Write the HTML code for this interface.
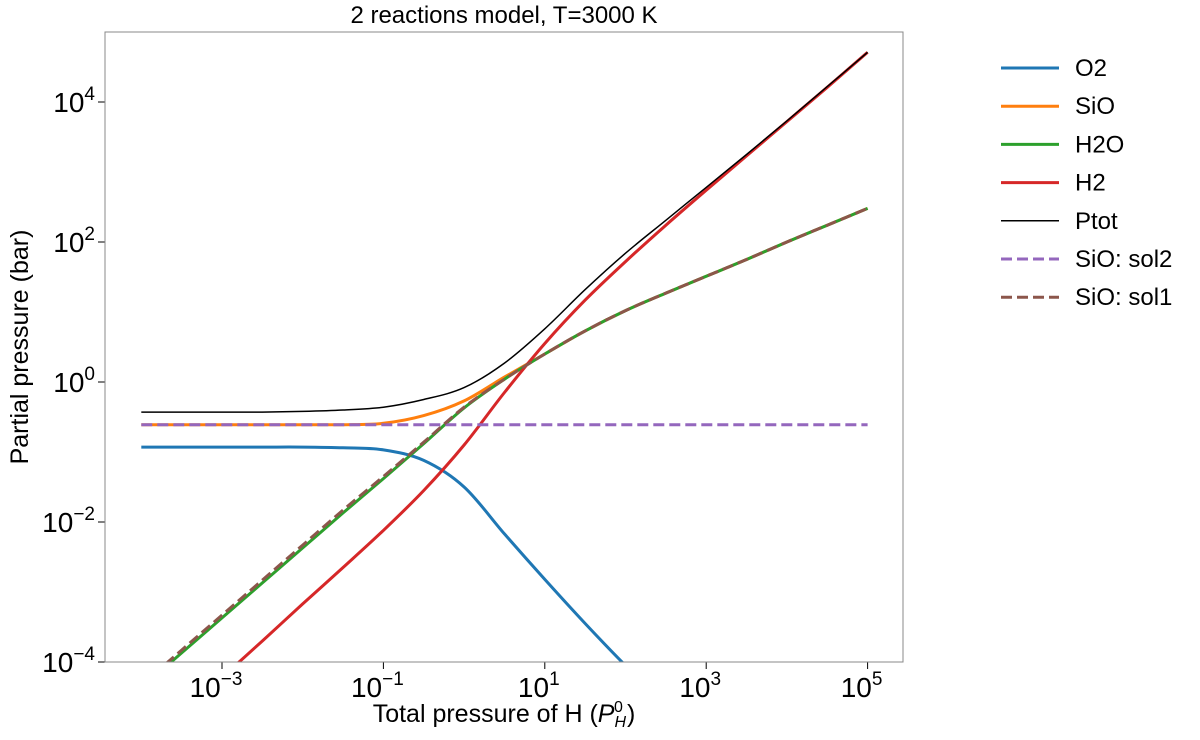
<!DOCTYPE html>
<html><head><meta charset="utf-8"><style>
html,body{margin:0;background:#fff;overflow:hidden;width:1200px;height:740px;}
svg{display:block;font-family:"Liberation Sans","DejaVu Sans",sans-serif;}
</style></head><body>
<svg id="chart" width="1200" height="740"></svg>
<script>
const logP = [-4,-3.5,-3,-2.5,-2,-1.5,-1,-0.5,0,0.5,1,1.5,2,2.5,3,3.5,4,4.5,5];
const o2 = [-0.93,-0.93,-0.93,-0.93,-0.93,-0.94,-0.97,-1.12,-1.5,-2.17,-2.82,-3.45,-4.05,-4.6,-5.1,-5.6,-6.1,-6.6,-7.1];
const sio = [-0.61,-0.61,-0.61,-0.61,-0.61,-0.61,-0.59,-0.48,-0.27,0.07,0.40,0.73,1.02,1.27,1.51,1.75,2.0,2.24,2.48];
const h2o = [-4.37,-3.87,-3.37,-2.87,-2.37,-1.87,-1.38,-0.88,-0.37,0.04,0.40,0.73,1.02,1.27,1.51,1.75,2.0,2.24,2.48];
const h2 = [-5.3,-4.75,-4.22,-3.7,-3.17,-2.65,-2.12,-1.55,-0.9,-0.15,0.55,1.17,1.72,2.24,2.74,3.23,3.72,4.21,4.71];
const ptot = [-0.43,-0.43,-0.43,-0.43,-0.42,-0.40,-0.36,-0.25,-0.08,0.27,0.76,1.32,1.84,2.31,2.78,3.25,3.73,4.22,4.71];
const sol2 = [-0.61,-0.61,-0.61,-0.61,-0.61,-0.61,-0.61,-0.61,-0.61,-0.61,-0.61,-0.61,-0.61,-0.61,-0.61,-0.61,-0.61,-0.61,-0.61];
const sol1 = [-4.33,-3.83,-3.33,-2.83,-2.33,-1.83,-1.35,-0.86,-0.36,0.04,0.40,0.73,1.02,1.27,1.51,1.75,2.0,2.24,2.48];
const xTicks = [-3,-1,1,3,5];
const yTicks = [-4,-2,0,2,4];
const legendNames = ["O2","SiO","H2O","H2","Ptot","SiO: sol2","SiO: sol1"];

const NS="http://www.w3.org/2000/svg";
const svg=document.getElementById('chart');
const L=105,R=903,T=32,B=662;
const X=v=>222+(v+3)*80.7;
const Y=v=>382-v*70;
function el(t,a,p){const e=document.createElementNS(NS,t);for(const k in a)e.setAttribute(k,a[k]);(p||svg).appendChild(e);return e;}
const defs=el('defs',{});
const cp=el('clipPath',{id:'clip'},defs);
el('rect',{x:L,y:T,width:R-L,height:B-T},cp);

const title=el('text',{x:(L+R)/2,y:23,'text-anchor':'middle','font-size':24});
title.textContent='2 reactions model, T=3000 K';



for(const t of xTicks){
  const g=el('g',{});
  
  
  el('line',{x1:X(t),x2:X(t),y1:B,y2:B+7,stroke:'#000','stroke-width':1},g);
  const tx=el('text',{x:X(t)-6,y:B+35,'text-anchor':'middle','font-size':28},g);
  tx.innerHTML='10<tspan dy="-12" font-size="19">'+(t<0?'\u2212'+(-t):t)+'</tspan>';
}
for(const t of yTicks){
  const g=el('g',{});
  
  
  el('line',{x1:L-7,x2:L,y1:Y(t),y2:Y(t),stroke:'#000','stroke-width':1},g);
  const tx=el('text',{x:L-10,y:Y(t)+10,'text-anchor':'end','font-size':28},g);
  tx.innerHTML='10<tspan dy="-12" font-size="19">'+(t<0?'\u2212'+(-t):t)+'</tspan>';
}

const xl=el('text',{x:(L+R)/2,y:722,'text-anchor':'middle','font-size':25});
xl.innerHTML='Total pressure of H (<tspan font-style="italic">P</tspan><tspan font-size="16" dy="5" font-style="italic">H</tspan><tspan font-size="16" dy="-15" dx="-12">0</tspan><tspan dy="10" dx="4">)</tspan>';


const yl=el('text',{x:0,y:0,'text-anchor':'middle','font-size':25,transform:'translate(28,'+((T+B)/2)+') rotate(-90)'});
yl.textContent='Partial pressure (bar)';



function path(ys){
  const p=logP.map((v,i)=>[X(v),Y(ys[i])]);
  let d='M'+p[0][0]+','+p[0][1];
  for(let i=0;i<p.length-1;i++){
    const p0=p[Math.max(0,i-1)],p1=p[i],p2=p[i+1],p3=p[Math.min(p.length-1,i+2)];
    const c1=[p1[0]+(p2[0]-p0[0])/6,p1[1]+(p2[1]-p0[1])/6];
    const c2=[p2[0]-(p3[0]-p1[0])/6,p2[1]-(p3[1]-p1[1])/6];
    d+=' C'+c1+' '+c2+' '+p2;
  }
  return d;
}
const series=[
 {d:o2,c:'#1f77b4',w:3,n:'o2-line'},
 {d:sio,c:'#ff7f0e',w:3,n:'sio-line'},
 {d:h2o,c:'#2ca02c',w:3,n:'h2o-line'},
 {d:h2,c:'#d62728',w:3,n:'h2-line'},
 {d:ptot,c:'#000',w:1.5,n:'ptot-line'},
 {d:sol2,c:'#9467bd',w:3,n:'sio-sol2-line',dash:'11,5'},
 {d:sol1,c:'#8c564b',w:3,n:'sio-sol1-line',dash:'11,5'}
];
const g=el('g',{'clip-path':'url(#clip)'});
for(const s of series){
  const a={d:path(s.d),fill:'none',stroke:s.c,'stroke-width':s.w};
  if(s.dash)a['stroke-dasharray']=s.dash;
  const e=el('path',a,g);
  
  
}
el('rect',{x:L,y:T,width:R-L,height:B-T,fill:'none',stroke:'#888','stroke-width':1});

series.forEach((s,i)=>{
  const y=68+i*38.2;
  const lg=el('g',{});
  
  
  const a={x1:1001,x2:1059,y1:y,y2:y,stroke:s.c,'stroke-width':s.w};
  if(s.dash)a['stroke-dasharray']='11,5';
  el('line',a,lg);
  const t=el('text',{x:1075,y:y+8,'font-size':24},lg);
  t.textContent=legendNames[i];
});
</script>
</body></html>
